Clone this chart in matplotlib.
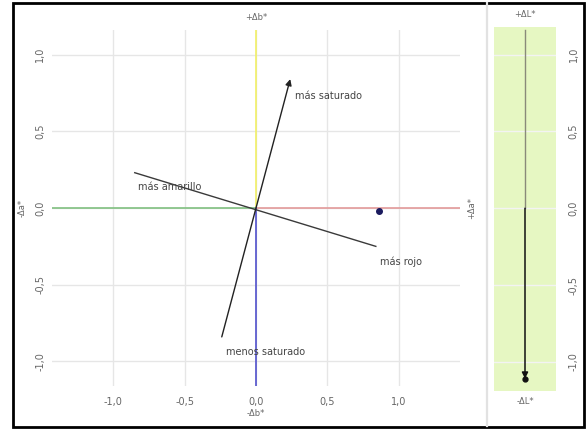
import matplotlib
matplotlib.use("Agg")
import matplotlib.pyplot as plt
from matplotlib.patches import Rectangle
from matplotlib.lines import Line2D

# chroma / hue direction lines (a*, b*)
sat_a = [-0.24, 0.24]
sat_b = [-0.84, 0.84]
hue_a = [-0.85, 0.84]
hue_b = [0.23, -0.25]

# sample difference
sample_da = 0.86
sample_db = -0.02
sample_dL = -1.11

ticks = [-1.0, -0.5, 0.0, 0.5, 1.0]
tick_labels = ["-1,0", "-0,5", "0,0", "0,5", "1,0"]

labels = ["más saturado", "más amarillo", "más rojo", "menos saturado"]
label_pos = [(0.27, 0.73), (-0.83, 0.14), (0.87, -0.35), (-0.21, -0.94)]

GRAY = "#666666"
FS = 7

fig = plt.figure(figsize=(5.86, 4.29), dpi=100)

# main a*/b* plot
ax = fig.add_axes([52 / 586, 1 - 386 / 429, 408 / 586, 356 / 429])
ax.set_xlim(-1.43, 1.43)
ax.set_ylim(-1.16, 1.16)
for s in ax.spines.values():
    s.set_visible(False)
ax.set_xticks(ticks)
ax.set_yticks(ticks)
ax.set_xticklabels(tick_labels, fontsize=FS, color=GRAY)
ax.set_yticklabels(tick_labels, fontsize=FS, color=GRAY, rotation=90, va="center")
ax.tick_params(axis="x", length=0, pad=8)
ax.tick_params(axis="y", length=0, pad=5)
ax.grid(True, color="#e6e6e6", lw=1)
ax.set_axisbelow(True)

ax.plot([-1.43, 0], [0, 0], color="#80c080", lw=1.2)
ax.plot([0, 1.43], [0, 0], color="#e39a9a", lw=1.2)
ax.plot([0, 0], [0, 1.16], color="#f2f066", lw=1.2)
ax.plot([0, 0], [0, -1.16], color="#5050cc", lw=1.2)

ax.plot(hue_a, hue_b, color="#3a3a3a", lw=1)
ax.annotate("", xy=(sat_a[1], sat_b[1]), xytext=(sat_a[0], sat_b[0]),
            arrowprops=dict(arrowstyle="-|>", color="#222222", lw=1,
                            mutation_scale=9, shrinkA=0, shrinkB=0))
for txt, (x, y) in zip(labels, label_pos):
    ax.text(x, y, txt, fontsize=FS, color="#444444", va="center", ha="left")

ax.plot(sample_da, sample_db, "o", color="#1a1a5e", ms=4)

ax.text(0, 1.24, "+Δb*", fontsize=FS - 1, color=GRAY, ha="center", va="center")
ax.text(0, -1.34, "-Δb*", fontsize=FS - 1, color=GRAY, ha="center", va="center")
ax.text(-1.64, 0, "-Δa*", fontsize=FS - 1, color=GRAY, ha="center", va="center",
        rotation=90)
ax.text(1.51, 0, "+Δa*", fontsize=FS - 1, color=GRAY, ha="center", va="center",
        rotation=90)

# L* bar
ax2 = fig.add_axes([494 / 586, 1 - 391 / 429, 62 / 586, 364 / 429])
ax2.set_facecolor("#e6f7c2")
ax2.set_xlim(-1, 1)
ax2.set_ylim(-1.19, 1.18)
for s in ax2.spines.values():
    s.set_visible(False)
ax2.set_xticks([])
ax2.set_yticks(ticks)
ax2.set_yticklabels(tick_labels, fontsize=FS, color=GRAY, rotation=90, va="center")
ax2.yaxis.tick_right()
ax2.tick_params(length=0, pad=9)
ax2.grid(True, axis="y", color="#f3f3f3", lw=1)
ax2.plot([0, 0], [0, 1.16], color="#8a8a7a", lw=1)
ax2.annotate("", xy=(0, sample_dL), xytext=(0, 0),
             arrowprops=dict(arrowstyle="-|>", color="#111111", lw=1.1,
                             mutation_scale=9, shrinkA=0, shrinkB=0))
ax2.plot(0, sample_dL, "o", color="#111111", ms=3.5)
ax2.text(0, 1.26, "+ΔL*", fontsize=FS - 1, color=GRAY, ha="center", va="center")
ax2.text(0, -1.26, "-ΔL*", fontsize=FS - 1, color=GRAY, ha="center", va="center")

# separator and frame
fig.add_artist(Line2D([487 / 586, 487 / 586], [3 / 429, 426 / 429],
                      transform=fig.transFigure, color="#e2e2e2", lw=1.6))
fig.add_artist(Rectangle((13 / 586, 2 / 429), 571 / 586, 424 / 429,
                         transform=fig.transFigure, fill=False,
                         edgecolor="black", lw=2))

fig.savefig("out.png", dpi=100)
